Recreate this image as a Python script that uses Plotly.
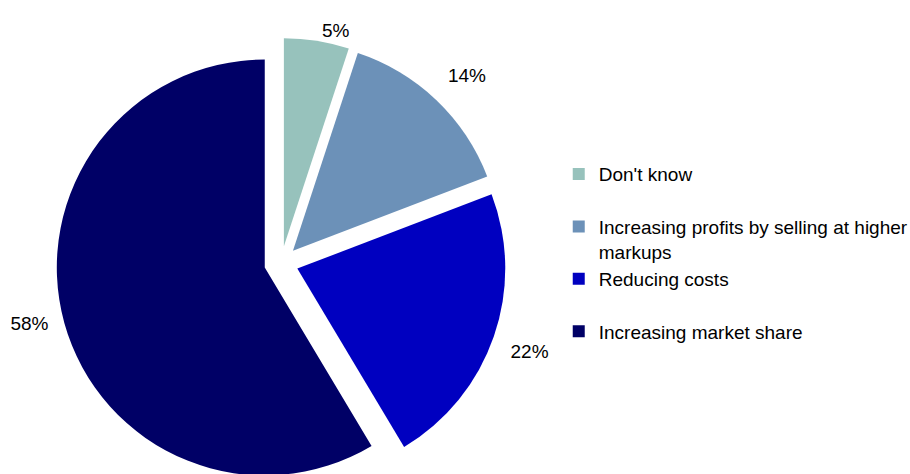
import plotly.graph_objects as go

# ---- data ----
categories = [
    "Don't know",
    "Increasing profits by selling at higher<br>markups",
    "Reducing costs",
    "Increasing market share",
]
values = [5, 14, 22, 58]

# ---- style ----
colors = ["#97C2BC", "#6C91B8", "#0000C0", "#000066"]
legend_labels = [c if "<br>" in c else c + "<br> " for c in categories]
FONT = "Liberation Sans, Arial, sans-serif"
NB = "\u00a0"
# invisible padding to nudge the outside labels outward like the original
pad_before = ["", "", NB + "<br>" + NB, ""]
pad_after = ["", "<br>" + NB, "", NB + NB]
value_text = [f"{v}%" for v in values]
slice_text = [b + t + a for b, t, a in zip(pad_before, value_text, pad_after)]

fig = go.Figure(
    go.Pie(
        labels=legend_labels,
        values=values,
        text=slice_text,
        sort=False,
        direction="clockwise",
        rotation=0,
        pull=[0.082] * len(values),
        marker=dict(colors=colors, line=dict(width=0)),
        texttemplate="%{text}",
        textposition="outside",
        outsidetextfont=dict(family=FONT, size=19, color="#000000"),
        hoverinfo="label+value",
        domain=dict(x=[0.049, 0.569], y=[0, 450 / 488]),
    )
)

fig.update_layout(
    width=910,
    height=488,
    margin=dict(l=0, r=0, t=0, b=0, autoexpand=False),
    paper_bgcolor="white",
    plot_bgcolor="white",
    font=dict(family=FONT, size=19, color="#000000"),
    showlegend=True,
    legend=dict(
        x=0.614,
        xanchor="left",
        y=0.682,
        yanchor="top",
        valign="top",
        bgcolor="rgba(0,0,0,0)",
        borderwidth=0,
        font=dict(family=FONT, size=19, color="#000000"),
    ),
)

fig.write_html(
    "out.html",
    post_script="document.documentElement.style.overflow='hidden';document.body.style.overflow='hidden';document.body.style.margin='0';",
)
